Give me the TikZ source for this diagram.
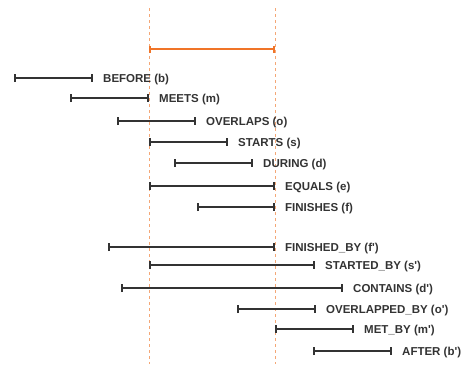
\documentclass[tikz,border=0pt]{standalone}
\usepackage{fontspec}
\setmainfont{Liberation Sans}
\usetikzlibrary{arrows.meta,positioning}
\definecolor{refline}{RGB}{240,116,40}
\definecolor{dashorange}{RGB}{240,130,60}

\begin{document}
\begin{tikzpicture}[x=1pt, y=-1pt,
    interval/.style={draw=black!80, line width=1.6pt, {Bar[width=8pt]}-{Bar[width=8pt]}},
    refinterval/.style={draw=refline, line width=1.8pt, {Bar[width=7pt]}-{Bar[width=7pt]}},
    guidedash/.style={draw=dashorange!70, line width=0.6pt, dashed},
    lbl/.style={font=\fontsize{11.5}{13}\selectfont\bfseries, text=black!80, inner sep=0pt}]
  \useasboundingbox (0,0) rectangle (463,364);

  % guides at the ends of the reference interval
  \coordinate (gtopA) at (149,8);
  \coordinate (gbotA) at (149,364);
  \coordinate (gtopB) at (275,8);
  \coordinate (gbotB) at (275,364);
  \draw[guidedash] (gtopA) -- (gbotA);
  \draw[guidedash] (gtopB) -- (gbotB);

  % reference interval
  \coordinate (refstart) at (149,49);
  \coordinate (refend) at (275,49);
  \draw[refinterval] (refstart) -- (refend);

  % the thirteen relations
  \foreach \y/\a/\b/\txt [count=\i] in {
      78/14/93/BEFORE (b),
      98/70/149/MEETS (m),
      121/117/196/OVERLAPS (o),
      142/149/228/STARTS (s),
      163/174/253/DURING (d),
      186/149/275/EQUALS (e),
      207/197/275/FINISHES (f),
      247/108/275/FINISHED\_BY (f\textquotesingle),
      265/149/315/STARTED\_BY (s\textquotesingle),
      288/121/343/CONTAINS (d\textquotesingle),
      309/237/316/OVERLAPPED\_BY (o\textquotesingle),
      329/275/354/MET\_BY (m\textquotesingle),
      351/313/392/AFTER (b\textquotesingle)} {
    \coordinate (s\i) at (\a,\y);
    \coordinate (e\i) at (\b,\y);
    \draw[interval] (s\i) -- (e\i);
    \node[lbl, right=10pt of e\i, anchor=base west, yshift=-4pt] (l\i) {\txt};
  }
\end{tikzpicture}
\end{document}
